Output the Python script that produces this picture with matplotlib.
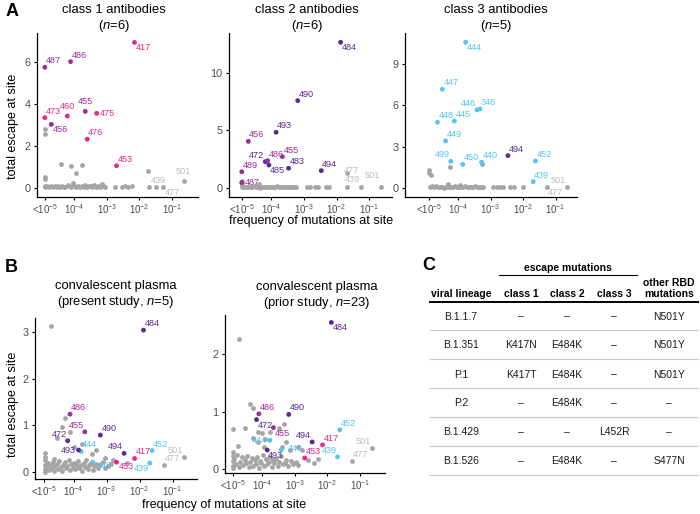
import matplotlib
matplotlib.use("Agg")
import matplotlib.pyplot as plt
from matplotlib.lines import Line2D

plt.rcParams['font.family'] = ['Liberation Sans', 'DejaVu Sans']
plt.rcParams['mathtext.fontset'] = 'custom'
plt.rcParams['mathtext.rm'] = 'Liberation Sans'
plt.rcParams['mathtext.it'] = 'Liberation Sans:italic'
plt.rcParams['mathtext.bf'] = 'Liberation Sans:bold'

# ---------------- data ----------------
FLOOR = -4.9   # log10 frequency plotted for "<10^-5"

site_freq = {
    346: -3.33, 417: -2.15, 439: -1.69, 440: -3.28, 444: -3.77, 445: -4.12,
    446: -3.42, 447: -4.49, 448: -4.64, 449: -4.39, 450: -3.86, 452: -1.62,
    453: -2.70, 455: -3.66, 456: -4.70, 460: -4.21, 472: -4.18, 473: FLOOR,
    475: -3.31, 476: -3.60, 477: -1.26, 483: -3.47, 484: -1.88, 485: -4.07,
    486: -4.11, 487: FLOOR, 489: FLOOR, 490: -3.19, 493: -3.85, 494: -2.47,
    499: -4.23, 501: -0.64,
}
site_group = {
    417: 'c1', 453: 'c1', 460: 'c1', 473: 'c1', 475: 'c1', 476: 'c1',
    455: 'c12', 456: 'c12', 486: 'c12', 487: 'c12', 489: 'c12',
    472: 'c2', 483: 'c2', 484: 'c2', 485: 'c2', 490: 'c2', 493: 'c2', 494: 'c2',
    346: 'c3', 439: 'c3', 440: 'c3', 444: 'c3', 445: 'c3', 446: 'c3', 447: 'c3',
    448: 'c3', 449: 'c3', 450: 'c3', 452: 'c3', 499: 'c3',
}

# Panel A1: class 1 antibodies
a1_sites = [417, 487, 486, 473, 460, 455, 475, 456, 476, 453]
a1_escape = [6.95, 5.76, 6.03, 3.35, 3.43, 3.65, 3.56, 3.03, 2.32, 1.05]
a1_gray_sites = [439, 477, 501]
a1_gray_escape = [0.02, 0.05, 0.32]
a1_bg_freq = [-4.9, -4.9, -4.9, -4.9, -4.9, -4.9, -4.41, -4.09, -3.94, -3.75, -1.74,
              -4.82, -4.77, -4.7, -4.66, -4.6, -4.53, -4.49, -4.43, -4.36, -4.31, -4.27,
              -4.2, -4.15, -4.1, -4.04, -3.99, -3.93, -3.88, -3.83, -3.76, -3.71, -3.66,
              -3.6, -3.55, -3.49, -3.44, -3.38, -3.33, -3.27, -3.21, -3.16, -3.11, -3.06,
              -2.74, -2.54, -2.44, -2.34, -2.23, -1.5]
a1_bg_escape = [2.79, 2.55, 0.52, 0.4, 0.08, 0.02, 1.15, 1.03, 0.7, 1.07, 0.8,
                0.06, 0.02, 0.08, 0.03, 0.1, 0.04, 0.07, 0.01, 0.09, 0.05, 0.03,
                0.12, 0.06, 0.02, 0.22, 0.08, 0.04, 0.1, 0.03, 0.07, 0.05, 0.12,
                0.02, 0.06, 0.09, 0.04, 0.11, 0.05, 0.08, 0.03, 0.19, 0.1, 0.04,
                0.05, 0.04, 0.06, 0.05, 0.07, 0.03]

# Panel A2: class 2 antibodies
a2_sites = [484, 490, 493, 456, 455, 472, 486, 485, 483, 494, 489, 487]
a2_escape = [12.64, 7.57, 4.82, 4.03, 2.70, 2.26, 2.35, 1.97, 1.69, 1.48, 1.39, 0.45]
a2_gray_sites = [439, 477, 501]
a2_gray_escape = [0.02, 0.02, 0.02]
a2_bg_freq = [-4.9, -4.9, -4.9, -4.9, -4.37, -1.69,
              -4.84, -4.78, -4.72, -4.65, -4.6, -4.54, -4.47, -4.42, -4.35, -4.3,
              -4.24, -4.18, -4.12, -4.06, -4.0, -3.94, -3.89, -3.83, -3.77, -3.71,
              -3.65, -3.59, -3.53, -3.47, -3.41, -3.35, -3.29, -3.23,
              -2.9, -2.82, -2.66, -2.58, -2.33, -2.24]
a2_bg_escape = [0.55, 0.35, 0.2, 0.05, 0.3, 1.25,
                0.05, 0.1, 0.02, 0.08, 0.04, 0.12, 0.03, 0.07, 0.01, 0.09,
                0.05, 0.02, 0.1, 0.04, 0.08, 0.03, 0.06, 0.11, 0.02, 0.07,
                0.04, 0.09, 0.03, 0.05, 0.08, 0.02, 0.06, 0.04,
                0.02, 0.03, 0.02, 0.04, 0.03, 0.02]

# Panel A3: class 3 antibodies
a3_sites = [444, 447, 446, 346, 448, 445, 449, 499, 450, 440, 494, 452, 439]
a3_escape = [10.6, 7.18, 5.67, 5.74, 4.77, 4.86, 3.41, 1.92, 1.70, 1.85, 2.34, 1.95, 0.44]
a3_gray_sites = [477, 501]
a3_gray_escape = [0.03, 0.07]
a3_bg_freq = [-4.9, -4.9, -4.85, -4.25, -3.28, -4.3, -3.94,
              -4.88, -4.82, -4.76, -4.7, -4.63, -4.57, -4.51, -4.45, -4.39, -4.33,
              -4.27, -4.21, -4.15, -4.09, -4.03, -3.97, -3.91, -3.85, -3.79, -3.73,
              -3.67, -3.61, -3.55, -3.49, -3.43, -3.37, -3.31, -3.25,
              -2.92, -2.81, -2.7, -2.61, -2.41, -2.28, -2.0]
a3_bg_escape = [1.29, 1.09, 0.93, 1.53, 1.7, 0.27, 0.2,
                0.04, 0.09, 0.02, 0.13, 0.05, 0.03, 0.08, 0.01, 0.06, 0.1,
                0.03, 0.07, 0.02, 0.12, 0.05, 0.08, 0.03, 0.06, 0.09, 0.02,
                0.05, 0.07, 0.03, 0.1, 0.04, 0.06, 0.02, 0.05,
                0.02, 0.02, 0.03, 0.02, 0.02, 0.02, 0.05]

# Panel B1: convalescent plasma (present study)
b1_sites = [484, 486, 455, 490, 472, 444, 493, 494, 452, 417, 453, 446, 439]
b1_escape = [3.04, 1.24, 0.86, 0.79, 0.67, 0.44, 0.47, 0.40, 0.46, 0.29, 0.21, 0.21, 0.19]
b1_gray_sites = [477, 501]
b1_gray_escape = [0.15, 0.33]
b1_bg_freq = [-4.67, -4.25, -4.35, -4.11, -4.5, -3.74, -3.99, -3.32, -4.87, -4.87,
              -2.8, -2.39, -3.45, -4.6, -3.05,
              -4.87, -4.87, -4.87, -4.87, -4.82, -4.78, -4.74, -4.7, -4.66, -4.62,
              -4.58, -4.55, -4.51, -4.47, -4.43, -4.39, -4.35, -4.31, -4.27, -4.23,
              -4.19, -4.15, -4.11, -4.07, -4.03, -3.99, -3.95, -3.91, -3.87, -3.83,
              -3.79, -3.75, -3.7, -3.66, -3.62, -3.57, -3.52, -3.47, -3.42, -3.37,
              -3.31, -3.25, -3.19, -3.12, -3.04, -2.96, -2.88]
b1_bg_escape = [3.13, 1.16, 0.97, 0.86, 0.72, 0.59, 0.54, 0.47, 0.41, 0.33,
                0.26, 0.19, 0.38, 0.28, 0.3,
                0.25, 0.15, 0.06, 0.01, 0.12, 0.2, 0.05, 0.16, 0.09, 0.22,
                0.03, 0.13, 0.18, 0.07, 0.24, 0.1, 0.02, 0.15, 0.21, 0.08,
                0.12, 0.26, 0.04, 0.17, 0.1, 0.2, 0.06, 0.14, 0.23, 0.09,
                0.16, 0.03, 0.19, 0.11, 0.25, 0.07, 0.14, 0.2, 0.05, 0.12,
                0.18, 0.09, 0.15, 0.22, 0.08, 0.13, 0.17]

# Panel B2: convalescent plasma (prior study)
b2_sites = [484, 486, 490, 472, 452, 455, 444, 494, 417, 493, 446, 453, 439]
b2_escape = [2.55, 0.96, 0.95, 0.86, 0.68, 0.72, 0.50, 0.47, 0.42, 0.33, 0.33, 0.19, 0.21]
b2_gray_sites = [477, 501]
b2_gray_escape = [0.14, 0.37]
b2_bg_freq = [-4.71, -4.38, -4.3, -4.9, -4.54, -4.15, -4.02, -3.77, -3.35, -3.48,
              -4.28, -3.91, -4.76, -4.13, -3.94, -3.41, -3.15, -2.9, -4.9, -3.28,
              -2.79, -2.61, -2.28, -2.4,
              -4.9, -4.9, -4.9, -4.9, -4.86, -4.81, -4.77, -4.72, -4.68, -4.63,
              -4.59, -4.55, -4.5, -4.46, -4.42, -4.37, -4.33, -4.29, -4.24, -4.2,
              -4.16, -4.11, -4.07, -4.03, -3.98, -3.94, -3.9, -3.85, -3.81, -3.76,
              -3.72, -3.67, -3.63, -3.58, -3.53, -3.48, -3.43, -3.38, -3.32, -3.26,
              -3.2, -3.13, -3.06, -2.98, -2.9]
b2_bg_escape = [2.26, 1.13, 1.07, 0.7, 0.72, 0.65, 0.63, 0.64, 0.78, 0.71,
                0.54, 0.52, 0.4, 0.47, 0.38, 0.39, 0.33, 0.39, 0.3, 0.47,
                0.33, 0.16, 0.17, 0.1,
                0.22, 0.14, 0.06, 0.01, 0.18, 0.09, 0.25, 0.04, 0.13, 0.2,
                0.07, 0.16, 0.1, 0.23, 0.03, 0.12, 0.19, 0.06, 0.15, 0.09,
                0.21, 0.02, 0.14, 0.11, 0.24, 0.05, 0.17, 0.08, 0.12, 0.2,
                0.04, 0.15, 0.1, 0.18, 0.06, 0.13, 0.22, 0.08, 0.11, 0.16,
                0.05, 0.14, 0.09, 0.12, 0.07]

# Table C
table_header = ["viral lineage", "class 1", "class 2", "class 3", "other RBD\nmutations"]
table_rows = [
    ["B.1.1.7", "–", "–", "–", "N501Y"],
    ["B.1.351", "K417N", "E484K", "–", "N501Y"],
    ["P.1", "K417T", "E484K", "–", "N501Y"],
    ["P.2", "–", "E484K", "–", "–"],
    ["B.1.429", "–", "–", "L452R", "–"],
    ["B.1.526", "–", "E484K", "–", "S477N"],
]

xtick_vals = [FLOOR, -4, -3, -2, -1]
xtick_labels = ["<10$^{-5}$", "10$^{-4}$", "10$^{-3}$", "10$^{-2}$", "10$^{-1}$"]

# ---------------- style ----------------
GROUP_COLORS = {'c1': '#E5288A', 'c12': '#9C2C98', 'c2': '#5A2A8F', 'c3': '#56C3F0'}
GRAY = '#A5A5A5'
GRAY_LABEL = '#BDBDBD'
PT = 12
W, H = 700, 514

STYLES = {
    'ur': (1, 2, 'left', 'bottom'),
    'dr': (1, -1, 'left', 'top'),
    'ul': (-1, 2, 'right', 'bottom'),
    'dl': (-1, -1, 'right', 'top'),
    'u': (0, 5, 'center', 'bottom'),
    'r': (3, 0, 'left', 'center'),
    'l': (-3, 0, 'right', 'center'),
}

fig = plt.figure(figsize=(7.0, 5.14), dpi=100)


def add_ax(l, r, t, b):
    return fig.add_axes([l / W, 1 - b / H, (r - l) / W, (b - t) / H])


def style_ax(ax, xlim, ylim, yticks):
    ax.set_xlim(*xlim)
    ax.set_ylim(*ylim)
    ax.set_xticks(xtick_vals)
    ax.set_xticklabels(xtick_labels)
    ax.set_yticks(yticks)
    for s in ['top', 'right']:
        ax.spines[s].set_visible(False)
    for s in ['left', 'bottom']:
        ax.spines[s].set_linewidth(0.9)
    ax.tick_params(length=2.5, width=0.8, labelcolor='#4D4D4D', pad=2)
    ax.tick_params(axis='y', labelsize=7.8)
    ax.tick_params(axis='x', labelsize=7.0, pad=1.5)


def get_style(key):
    if isinstance(key, tuple):
        return key
    return STYLES[key]


def draw(ax, bg_x, bg_y, sites, esc, gsites, gesc, lab):
    ax.scatter(bg_x, bg_y, s=PT, color=GRAY, lw=0, zorder=2)
    gx = [site_freq[s] for s in gsites]
    ax.scatter(gx, gesc, s=PT, color=GRAY, lw=0, zorder=2)
    cx = [site_freq[s] for s in sites]
    cols = [GROUP_COLORS[site_group[s]] for s in sites]
    ax.scatter(cx, esc, s=PT, c=cols, lw=0, zorder=3)
    for s, x, y, c in zip(sites, cx, esc, cols):
        dx, dy, ha, va = get_style(lab.get(s, 'ur'))
        ax.annotate(str(s), (x, y), xytext=(dx, dy), textcoords='offset pixels',
                    ha=ha, va=va, fontsize=6.6, color=c, zorder=4)
    for s, x, y in zip(gsites, gx, gesc):
        dx, dy, ha, va = get_style(lab.get(s, 'ur'))
        ax.annotate(str(s), (x, y), xytext=(dx, dy), textcoords='offset pixels',
                    ha=ha, va=va, fontsize=6.6, color=GRAY_LABEL, zorder=4)


# A1
ax1 = add_ax(37, 198, 33, 197)
draw(ax1, a1_bg_freq, a1_bg_escape, a1_sites, a1_escape, a1_gray_sites, a1_gray_escape,
     {417: 'dr', 460: 'u', 455: 'u', 475: 'r', 456: 'dr', 477: 'dr', 501: 'u'})
style_ax(ax1, (-5.14, -0.2), (-0.445, 7.4), [0, 2, 4, 6])

# A2
ax2 = add_ax(229, 392, 33, 197)
draw(ax2, a2_bg_freq, a2_bg_escape, a2_sites, a2_escape, a2_gray_sites, a2_gray_escape,
     {484: 'dr', 472: 'ul', 485: 'dr', 487: 'r', 477: (-2, 12, 'right', 'bottom'),
      439: (-2, 3, 'left', 'bottom'), 501: (-1, 7, 'right', 'bottom')})
style_ax(ax2, (-5.29, -0.31), (-0.81, 13.45), [0, 5, 10])

# A3
ax3 = add_ax(405, 577, 33, 197)
draw(ax3, a3_bg_freq, a3_bg_escape, a3_sites, a3_escape, a3_gray_sites, a3_gray_escape,
     {444: 'dr', 446: 'ul', 499: 'ul', 501: 'ul', 477: 'dr'})
style_ax(ax3, (-5.64, -0.34), (-0.68, 11.28), [0, 3, 6, 9])

# B1
ax4 = add_ax(35, 197, 318, 479)
draw(ax4, b1_bg_freq, b1_bg_escape, b1_sites, b1_escape, b1_gray_sites, b1_gray_escape,
     {455: 'ul', 472: 'ul', 493: 'l', 494: 'ul', 453: (2, 0, 'left', 'top'),
      446: (4, 1, 'left', 'top'), 439: 'dl', 501: 'ul'})
style_ax(ax4, (-5.17, -0.26), (-0.15, 3.30), [0, 1, 2, 3])

# B2
ax5 = add_ax(225, 385, 315, 473)
draw(ax5, b2_bg_freq, b2_bg_escape, b2_sites, b2_escape, b2_gray_sites, b2_gray_escape,
     {484: 'dr', 472: 'dr', 455: 'dr', 444: 'l', 494: 'ul', 493: 'dr',
      446: (7, 2, 'left', 'center'), 439: 'ul', 501: 'ul'})
style_ax(ax5, (-5.15, -0.23), (-0.07, 2.68), [0, 1, 2])


def ftext(x, y, s, **kw):
    fig.text(x / W, 1 - y / H, s, **kw)


# titles
TS = 9.4
ftext(114, 10, "class 1 antibodies", ha='center', va='center', fontsize=TS)
ftext(114, 26, "($n$=6)", ha='center', va='center', fontsize=TS)
ftext(307, 10, "class 2 antibodies", ha='center', va='center', fontsize=TS)
ftext(307, 26, "($n$=6)", ha='center', va='center', fontsize=TS)
ftext(496, 10, "class 3 antibodies", ha='center', va='center', fontsize=TS)
ftext(496, 26, "($n$=5)", ha='center', va='center', fontsize=TS)
ftext(116, 286, "convalescent plasma", ha='center', va='center', fontsize=TS)
ftext(116, 302, "(present study, $n$=5)", ha='center', va='center', fontsize=TS)
ftext(317, 287, "convalescent plasma", ha='center', va='center', fontsize=TS)
ftext(317, 303, "(prior study, $n$=23)", ha='center', va='center', fontsize=TS)

# axis labels
ftext(311, 221, "frequency of mutations at site", ha='center', va='center', fontsize=9)
ftext(224, 505, "frequency of mutations at site", ha='center', va='center', fontsize=9)
ftext(13, 126, "total escape at site", ha='center', va='center', fontsize=9, rotation=90)
ftext(13, 404, "total escape at site", ha='center', va='center', fontsize=9, rotation=90)

# panel letters
ftext(12, 12, "A", ha='center', va='center', fontsize=13, fontweight='bold')
ftext(11, 267, "B", ha='center', va='center', fontsize=13, fontweight='bold')
ftext(429, 266, "C", ha='center', va='center', fontsize=13, fontweight='bold')

# table C
col_x = [461, 521, 567, 614, 669]
row_y = [316.5, 345.5, 374.5, 403.5, 432.3, 461]
line_y = [330, 359, 388, 417, 446, 475]
TF = 7.5
ftext(568, 268, "escape mutations", ha='center', va='center', fontsize=TF, fontweight='bold')
fig.add_artist(Line2D([499 / W, 637 / W], [1 - 275 / H, 1 - 275 / H], color='black', lw=0.8))
for i, h in enumerate(table_header):
    if "\n" in h:
        top, bot = h.split("\n")
        ftext(col_x[i], 282.5, top, ha='center', va='center', fontsize=TF, fontweight='bold')
        ftext(col_x[i], 294, bot, ha='center', va='center', fontsize=TF, fontweight='bold')
    else:
        ftext(col_x[i], 294, h, ha='center', va='center', fontsize=TF, fontweight='bold')
fig.add_artist(Line2D([430 / W, 698 / W], [1 - 302 / H, 1 - 302 / H], color='black', lw=1.4))
for r, row in enumerate(table_rows):
    for i, v in enumerate(row):
        ftext(col_x[i], row_y[r], v, ha='center', va='center', fontsize=TF, color='#1A1A1A')
    fig.add_artist(Line2D([430 / W, 698 / W], [1 - line_y[r] / H, 1 - line_y[r] / H],
                          color='#C8C8C8', lw=0.8))

fig.savefig("out.png", dpi=100)
